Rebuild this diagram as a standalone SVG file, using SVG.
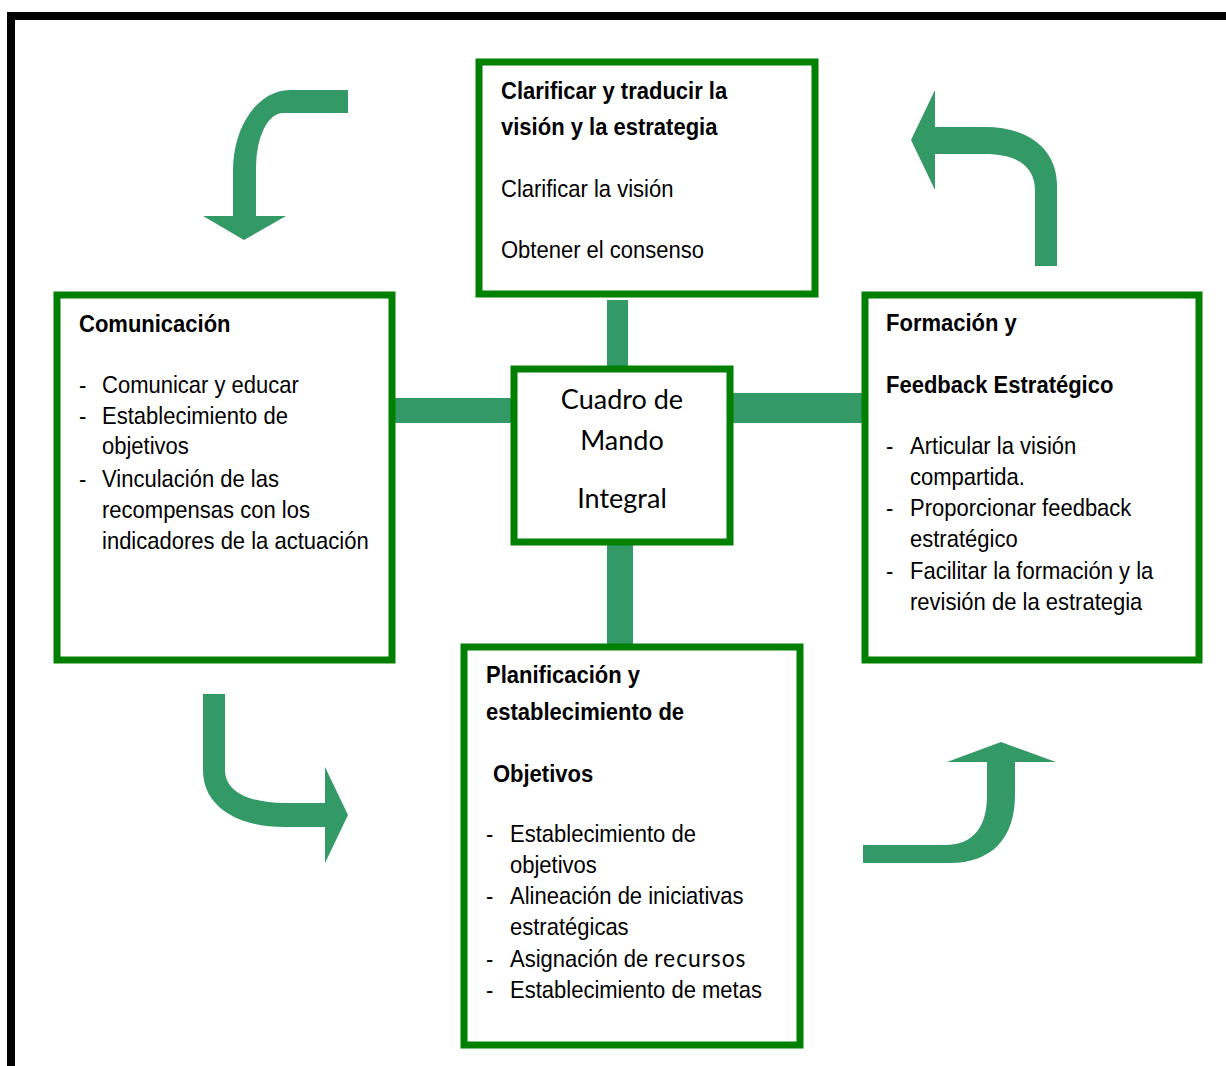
<svg xmlns="http://www.w3.org/2000/svg" width="1226" height="1066" viewBox="0 0 1226 1066">
<defs>
<style>
.box{fill:#ffffff;stroke:#008000;stroke-width:7}
.con{fill:#339966}
.arr{fill:#339966}
text{font-family:"Liberation Sans",Arial,sans-serif;font-size:24px;fill:#000000}
.b{font-weight:bold}
.c{font-family:Lato,"Open Sans",sans-serif;font-size:27px;text-anchor:middle}
.cal{font-family:Lato,"Open Sans",sans-serif;font-size:25px;letter-spacing:1px}
</style>
</defs>
<rect x="0" y="0" width="1226" height="1066" fill="#ffffff"/>
<path d="M 11 1066 L 11 16 L 1226 16" fill="none" stroke="#000000" stroke-width="8"/>

<g id="connectors">
<rect class="con" x="607" y="300" width="21" height="69"/>
<rect class="con" x="392" y="398" width="122" height="25"/>
<rect class="con" x="730" y="393" width="134" height="30"/>
<rect class="con" x="607" y="542" width="26" height="105"/>
<path class="arr" d="M 348 90 L 290 90 A 57 80 0 0 0 233 170 L 233 216 L 203 216 L 244 240 L 286 216 L 256 216 L 256 167 A 27 54 0 0 1 283 113 L 348 113 Z"/>
<path class="arr" d="M 1035 266 L 1035 190 C 1035 165 1015 154 985 154 L 935 154 L 935 190 L 911 140 L 935 90 L 935 127 L 985 127 C 1032 127 1057 152 1057 185 L 1057 266 Z"/>
<path class="arr" d="M 203 694 L 225 694 L 225 770 C 225 792 250 803 285 803 L 325 803 L 325 767 L 348 815 L 325 863 L 325 827 L 285 827 C 235 827 203 805 203 770 Z"/>
<path class="arr" d="M 863 845 L 945 845 C 975 845 987 825 987 795 L 987 762 L 947 762 L 1001 742 L 1056 762 L 1015 762 L 1015 795 C 1015 840 990 863 950 863 L 863 863 Z"/>
</g>

<g id="node-top">
<rect class="box" x="479" y="62" width="336" height="232"/>
<g transform="matrix(0.917 0 0 1 501 0)">
<text class="b" x="0" y="99">Clarificar y traducir la</text>
<text class="b" x="0" y="135">visión y la estrategia</text>
<text x="0" y="197">Clarificar la visión</text>
<text x="0" y="258">Obtener el consenso</text>
</g>
</g>

<g id="node-left">
<rect class="box" x="57" y="295" width="335" height="365"/>
<g transform="matrix(0.917 0 0 1 79 0)">
<text class="b" x="0" y="332">Comunicación</text>
<text x="0" y="393">-</text><text x="25.1" y="393">Comunicar y educar</text>
<text x="0" y="424">-</text><text x="25.1" y="424">Establecimiento de</text>
<text x="25.1" y="454">objetivos</text>
<text x="0" y="487">-</text><text x="25.1" y="487">Vinculación de las</text>
<text x="25.1" y="518">recompensas con los</text>
<text x="25.1" y="549">indicadores de la actuación</text>
</g>
</g>

<g id="node-center">
<rect class="box" x="514" y="369" width="216" height="173"/>
<text class="c" x="622" y="409">Cuadro de</text>
<text class="c" x="622" y="450">Mando</text>
<text class="c" x="622" y="508">Integral</text>
</g>

<g id="node-right">
<rect class="box" x="865" y="295" width="334" height="365"/>
<g transform="matrix(0.917 0 0 1 886 0)">
<text class="b" x="0" y="331">Formación y</text>
<text class="b" x="0" y="393">Feedback Estratégico</text>
<text x="0" y="454">-</text><text x="26.2" y="454">Articular la visión</text>
<text x="26.2" y="485">compartida.</text>
<text x="0" y="516">-</text><text x="26.2" y="516">Proporcionar feedback</text>
<text x="26.2" y="547">estratégico</text>
<text x="0" y="579">-</text><text x="26.2" y="579">Facilitar la formación y la</text>
<text x="26.2" y="610">revisión de la estrategia</text>
</g>
</g>

<g id="node-bottom">
<rect class="box" x="464" y="647" width="336" height="398"/>
<g transform="matrix(0.917 0 0 1 486 0)">
<text class="b" x="0" y="683">Planificación y</text>
<text class="b" x="0" y="720">establecimiento de</text>
<text class="b" x="7.6" y="782">Objetivos</text>
<text x="0" y="842">-</text><text x="26.2" y="842">Establecimiento de</text>
<text x="26.2" y="873">objetivos</text>
<text x="0" y="904">-</text><text x="26.2" y="904">Alineación de iniciativas</text>
<text x="26.2" y="935">estratégicas</text>
<text x="0" y="967">-</text><text x="26.2" y="967">Asignación de <tspan class="cal">recursos</tspan></text>
<text x="0" y="998">-</text><text x="26.2" y="998">Establecimiento de metas</text>
</g>
</g>
</svg>
